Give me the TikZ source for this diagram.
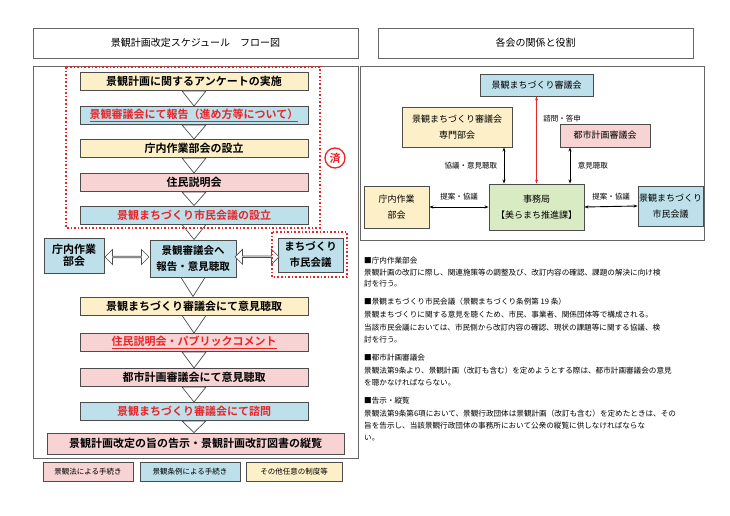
\documentclass[tikz,border=0pt]{standalone}
\usepackage{fontspec}
\setmainfont{Noto Sans CJK JP}[BoldFont={Noto Sans CJK JP Bold}]
\usetikzlibrary{arrows.meta,shapes.arrows,positioning,calc}
\definecolor{kyel}{HTML}{FDF0C8}
\definecolor{kblu}{HTML}{BEE0EA}
\definecolor{kpnk}{HTML}{F8D3D3}
\definecolor{kgrn}{HTML}{D9EBC2}
\definecolor{kred}{HTML}{E8262A}
\tikzset{
  frame/.style={draw=black!60, line width=0.8pt},
  flow/.style={draw=black!70, line width=1pt, font=\bfseries\fontsize{11}{12}\selectfont, inner sep=0pt},
  rel/.style={draw=black!70, line width=0.9pt, font=\fontsize{9}{12}\selectfont, align=center, inner sep=0pt},
  dotbox/.style={draw=kred, line width=1.6pt, dotted},
  down/.style={draw=black!70, fill=white, line width=0.7pt},
  dbl/.style={draw=black!70, fill=white, line width=0.7pt, double arrow, double arrow head extend=3pt, minimum height=44pt, minimum width=15pt, inner sep=0pt},
  lnk/.style={{Stealth[length=4pt]}-{Stealth[length=4pt]}, line width=0.9pt},
  lbl/.style={font=\fontsize{7.5}{9}\selectfont},
  para/.style={anchor=west, font=\fontsize{7.6}{9}\selectfont, inner sep=0pt},
  legend/.style={draw=black!70, line width=0.9pt, font=\fontsize{7.5}{9}\selectfont, inner sep=0pt}
}
\newcommand{\stepbox}[5]{\node[flow, fill=#2, minimum width=#3pt, minimum height=18pt] (#1) at #4 {#5};}
\begin{document}
\begin{tikzpicture}[x=1pt,y=-1pt]
\useasboundingbox (0,0) rectangle (730,516);
% titles
\node[frame, minimum width=325pt, minimum height=30pt, font=\fontsize{10}{12}\selectfont] (t1) at (195.5,43) {景観計画改定スケジュール　フロー図};
\node[frame, minimum width=315pt, minimum height=30pt, font=\fontsize{10}{12}\selectfont] (t2) at (535.5,43) {各会の関係と役割};
\draw[frame] (33,66) rectangle (358,458);
\draw[frame] (360,66) rectangle (704,240);

% flow
\stepbox{f1}{kyel}{228}{(194,81.5)}{景観計画に関するアンケートの実施}
\stepbox{f2}{kblu}{228}{(194,115.5)}{\color{kred}\underline{景観審議会にて報告（進め方等について）}}
\stepbox{f3}{kyel}{228}{(194,148.5)}{庁内作業部会の設立}
\stepbox{f4}{kpnk}{228}{(194,182.5)}{住民説明会}
\stepbox{f5}{kblu}{228}{(194,215)}{\color{kred}景観まちづくり市民会議の設立}
\node[flow, fill=kblu, minimum width=60pt, minimum height=35pt, align=center] (w1) at (74,255.5) {庁内作業\\部会};
\node[flow, fill=kblu, minimum width=86pt, minimum height=37pt, align=center, font=\bfseries\fontsize{10.5}{16}\selectfont] (w2) at (193,258.5) {景観審議会へ\\報告・意見聴取};
\node[flow, fill=kblu, minimum width=65pt, minimum height=34pt, align=center, font=\bfseries\fontsize{10.5}{16}\selectfont] (w3) at (310.5,255) {まちづくり\\市民会議};
\stepbox{f6}{kyel}{228}{(194,306)}{景観まちづくり審議会にて意見聴取}
\stepbox{f7}{kpnk}{228}{(194,342.5)}{\color{kred}\underline{住民説明会・パブリックコメント}}
\stepbox{f8}{kpnk}{228}{(194,377.5)}{都市計画審議会にて意見聴取}
\stepbox{f9}{kblu}{228}{(194,411.5)}{\color{kred}景観まちづくり審議会にて諮問}
\node[flow, fill=kpnk, minimum width=297pt, minimum height=21pt] (f10) at (195.5,443.5) {景観計画改定の旨の告示・景観計画改訂図書の縦覧};

% down arrows
\foreach \a/\b in {f1/f2,f2/f3,f3/f4,f4/f5,f5/w2,w2/f6,f6/f7,f7/f8,f8/f9,f9/f10}
  \draw[down] ($(\a.south)+(-12,0)$) -- ($(\a.south)+(12,0)$) -- (\a.south |- \b.north) -- cycle;
\node[dbl] (d1) at ($(w1.east)!0.5!(w2.west)$) {};
\node[dbl] (d2) at ($(w2.east)!0.5!(w3.west)$) {};

% done marks
\draw[dotbox] (66,67) rectangle (320,228);
\draw[dotbox] (272,232) rectangle (347,277);
\node[circle, draw=kred, line width=1.3pt, text=kred, inner sep=1pt, minimum size=20pt, font=\bfseries\fontsize{11}{12}\selectfont] (done) at (335,158) {済};

% legend
\node[legend, fill=kpnk, minimum width=90pt, minimum height=19pt] (g1) at (88,471.5) {景観法による手続き};
\node[legend, fill=kblu, minimum width=100pt, minimum height=19pt] (g2) at (190,471.5) {景観条例による手続き};
\node[legend, fill=kyel, minimum width=96pt, minimum height=19pt] (g3) at (294,471.5) {その他任意の制度等};

% relations
\node[rel, fill=kblu, minimum width=113pt, minimum height=22pt] (r1) at (536.5,85) {景観まちづくり審議会};
\node[rel, fill=kyel, minimum width=110pt, minimum height=40pt, font=\fontsize{9}{16}\selectfont] (r2) at (457,127) {景観まちづくり審議会\\専門部会};
\node[rel, fill=kpnk, minimum width=90pt, minimum height=23pt] (r3) at (605,135.5) {都市計画審議会};
\node[rel, fill=kyel, minimum width=65pt, minimum height=42pt, font=\fontsize{9}{16}\selectfont] (r4) at (396.5,207) {庁内作業\\部会};
\node[rel, fill=kgrn, minimum width=95pt, minimum height=46pt, font=\fontsize{9}{16}\selectfont] (r5) at (536.5,207) {事務局\\【美らまち推進課】};
\node[rel, fill=kblu, minimum width=65pt, minimum height=40pt, font=\fontsize{9}{16}\selectfont] (r6) at (670.5,206) {景観まちづくり\\市民会議};
\draw[lnk, draw=kred] (r5.north) -- node[lbl, right=3pt, pos=0.75] {諮問・答申} (r1.south);
\draw[lnk] (r5.north -| 504,0) -- node[lbl, left=3pt] {協議・意見聴取} (r2.south -| 504,0);
\draw[lnk] (r5.north -| 570,0) -- node[lbl, right=4pt] {意見聴取} (r3.south -| 570,0);
\draw[lnk] (r4.east) -- node[lbl, above=3pt] {提案・協議} (r5.west);
\draw[lnk] (r5.east) -- node[lbl, above=3pt] {提案・協議} (r6.west);

% notes
\node[para] (n1) at (364,261) {■庁内作業部会};
\node[para] (n2) at (364,273) {景観計画の改訂に際し、関連施策等の調整及び、改訂内容の確認、課題の解決に向け検};
\node[para] (n3) at (364,284) {討を行う。};
\node[para] (n4) at (364,302) {■景観まちづくり市民会議（景観まちづくり条例第 19 条）};
\node[para] (n5) at (364,315) {景観まちづくりに関する意見を聴くため、市民、事業者、関係団体等で構成される。};
\node[para] (n6) at (364,328) {当該市民会議においては、市民側から改訂内容の確認、現状の課題等に関する協議、検};
\node[para] (n7) at (364,340) {討を行う。};
\node[para] (n8) at (364,358) {■都市計画審議会};
\node[para] (n9) at (364,371) {景観法第9条より、景観計画（改訂も含む）を定めようとする際は、都市計画審議会の意見};
\node[para] (n10) at (364,383) {を聴かなければならない。};
\node[para] (n11) at (364,401) {■告示・縦覧};
\node[para] (n12) at (364,414) {景観法第9条第6項において、景観行政団体は景観計画（改訂も含む）を定めたときは、その};
\node[para] (n13) at (364,426) {旨を告示し、当該景観行政団体の事務所において公衆の縦覧に供しなければならな};
\node[para] (n14) at (364,438) {い。};
\end{tikzpicture}
\end{document}
